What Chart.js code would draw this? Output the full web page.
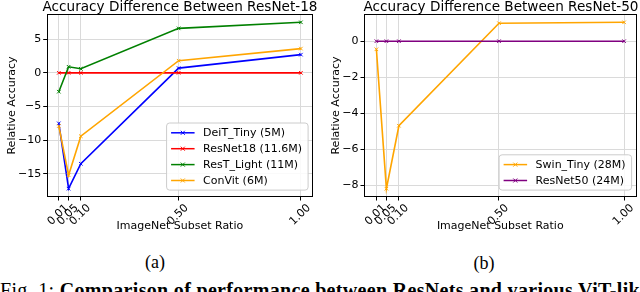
<!DOCTYPE html>
<html><head><meta charset="utf-8">
<script src="https://cdn.jsdelivr.net/npm/chart.js@4"></script>
<style>
html,body{margin:0;padding:0;background:#fff;width:640px;height:292px;overflow:hidden;}
body{position:relative;font-family:"DejaVu Sans";color:#000;}
.panel{position:absolute;top:0;width:320px;height:236px;}
.title{position:absolute;top:0;font-size:13.6px;line-height:13.6px;white-space:nowrap;transform:translateX(-50%);}
.sub{position:absolute;font-family:"Liberation Serif";font-size:18px;line-height:18px;transform:translate(-50%,-50%);white-space:nowrap;}
.caption{position:absolute;left:0;top:279px;font-family:"Liberation Serif";font-size:20px;line-height:22px;white-space:nowrap;}
</style></head>
<body>
<canvas id="cA" class="panel" style="left:0" width="320" height="236"></canvas>
<canvas id="cB" class="panel" style="left:320px" width="320" height="236"></canvas>
<div class="title" style="left:180px">Accuracy Difference Between ResNet-18</div>
<div class="title" style="left:501px">Accuracy Difference Between ResNet-50</div>
<div class="sub" style="left:155px;top:262px">(a)</div>
<div class="sub" style="left:484px;top:263px">(b)</div>
<div class="caption"><span id="fit">Fig. 1: <b>Comparison of performance between ResNets and various ViT-lik</b></span><b>e</b></div>
<script>
// ---- data ----
const ratios = [0.01, 0.05, 0.10, 0.50, 1.00];
const xTickLabels = ['0.01', '0.05', '0.10', '0.50', '1.00'];
const deitTiny  = [-7.5, -17.2, -13.5, 0.7, 2.7];
const resnet18  = [0, 0, 0, 0, 0];
const restLight = [-2.8, 0.9, 0.6, 6.6, 7.5];
const convit    = [-7.9, -15.2, -9.4, 1.8, 3.6];
const swinTiny  = [-0.45, -8.2, -4.7, 1.0, 1.05];
const resnet50  = [0, 0, 0, 0, 0];
const yTicksA = [-15, -10, -5, 0, 5];
const yTicksB = [-8, -6, -4, -2, 0];
const seriesA = [
  ['DeiT_Tiny (5M)', deitTiny, '#0000ff'],
  ['ResNet18 (11.6M)', resnet18, '#ff0000'],
  ['ResT_Light (11M)', restLight, '#008000'],
  ['ConVit (6M)', convit, '#ffa500']
];
const seriesB = [
  ['Swin_Tiny (28M)', swinTiny, '#ffa500'],
  ['ResNet50 (24M)', resnet50, '#800080']
];

const FONT = 'DejaVu Sans';
function lim(vals){ const lo=Math.min(...vals), hi=Math.max(...vals), m=(hi-lo)*0.05; return [lo-m, hi+m]; }

const framePlugin = {
  id:'frame',
  afterDatasetsDraw(chart){
    const a=chart.chartArea, c=chart.ctx;
    c.save(); c.strokeStyle='#000'; c.lineWidth=1;
    c.strokeRect(Math.round(a.left)+0.5, Math.round(a.top)+0.5, Math.round(a.right-a.left)-1, Math.round(a.bottom-a.top)-1);
    c.restore();
  }
};
function drawX(c,x,y,r){ c.beginPath(); c.moveTo(x-r,y-r); c.lineTo(x+r,y+r); c.moveTo(x-r,y+r); c.lineTo(x+r,y-r); c.stroke(); }
const legendPlugin = {
  id:'boxlegend',
  afterDraw(chart){
    const a=chart.chartArea, c=chart.ctx, ds=chart.data.datasets;
    c.save();
    c.font = '11px "'+FONT+'"';
    let tw=0; ds.forEach(d=>{ tw=Math.max(tw, c.measureText(d.label).width); });
    const x1=a.right-5.4, y1=a.bottom-7.4, n=ds.length, rowH=15.9;
    const h=n*rowH+3.5, w=37+tw+5.5, x0=x1-w, y0=y1-h;
    c.beginPath();
    if (c.roundRect) c.roundRect(x0+0.5,y0+0.5,w,h,3); else c.rect(x0+0.5,y0+0.5,w,h);
    c.fillStyle='rgba(255,255,255,0.85)'; c.fill();
    c.strokeStyle='#cccccc'; c.lineWidth=1; c.stroke();
    ds.forEach((d,i)=>{
      const cy = y0 + 10.3 + i*rowH;
      c.strokeStyle=d.borderColor; c.lineWidth=1.5;
      c.beginPath(); c.moveTo(x0+5,cy); c.lineTo(x0+28.5,cy); c.stroke();
      c.lineWidth=1; drawX(c,x0+16.7,cy,2);
      c.fillStyle='#000'; c.textBaseline='middle'; c.textAlign='left';
      c.fillText(d.label, x0+37, cy+0.5);
    });
    c.restore();
  }
};

function makeChart(id, series, yTicks, axisW, padRight, yTitlePad){
  const allY = [].concat(...series.map(s=>s[1]));
  const [ymin,ymax] = lim(allY);
  const [xmin,xmax] = lim(ratios);
  const datasets = series.map((s,i)=>({
    label:s[0],
    data: ratios.map((x,j)=>({x:x, y:s[1][j]})),
    borderColor:s[2], backgroundColor:s[2],
    borderWidth:1.6, pointStyle:'crossRot', pointRadius:2.5, pointBorderWidth:1,
    pointHoverRadius:2.5, tension:0, fill:false, order:-i, clip:false
  }));
  const gridCfg = {color:'#dadada', lineWidth:1, tickColor:'#000', tickLength:3.5, drawTicks:true};
  const tickFont = {family:FONT, size:11};
  return new Chart(document.getElementById(id), {
    type:'line',
    data:{datasets},
    options:{
      responsive:false, animation:false, devicePixelRatio:1,
      layout:{padding:{left:0, right:padRight, top:14, bottom:0}},
      plugins:{legend:{display:false}, tooltip:{enabled:false}, title:{display:false}},
      scales:{
        x:{type:'linear', min:xmin, max:xmax,
          afterBuildTicks:s=>{ s.ticks = ratios.map(v=>({value:v})); },
          afterFit:s=>{ s.height = 39; },
          grid:gridCfg, border:{display:false},
          ticks:{autoSkip:false, minRotation:45, maxRotation:45, labelOffset:8, padding:1, color:'#000', font:tickFont,
                 callback:(v)=>xTickLabels[ratios.indexOf(v)]},
          title:{display:true, text:'ImageNet Subset Ratio', color:'#000', font:{family:FONT,size:11}, padding:{top:0,bottom:3.4}}
        },
        y:{type:'linear', min:ymin, max:ymax,
          afterBuildTicks:s=>{ s.ticks = yTicks.map(v=>({value:v})); },
          afterFit:s=>{ s.width = axisW; },
          grid:gridCfg, border:{display:false},
          ticks:{padding:2, color:'#000', font:tickFont, callback:(v)=>String(v).replace('-','\u2212')},
          title:{display:true, text:'Relative Accuracy', color:'#000', font:{family:FONT,size:11}, padding:{top:yTitlePad,bottom:0}}
        }
      }
    },
    plugins:[framePlugin, legendPlugin]
  });
}
makeChart('cA', seriesA, yTicksA, 46.7, 7, 5.4);
makeChart('cB', seriesB, yTicksB, 44, 2.5, 9.4);

// stretch caption so the visible part spans the width as in the reference
(function(){
  const f=document.getElementById('fit');
  const w=f.getBoundingClientRect().width, n=f.textContent.length;
  const ls=(640-w)/n;
  document.querySelector('.caption').style.letterSpacing=ls+'px';
})();
</script>
</body></html>
